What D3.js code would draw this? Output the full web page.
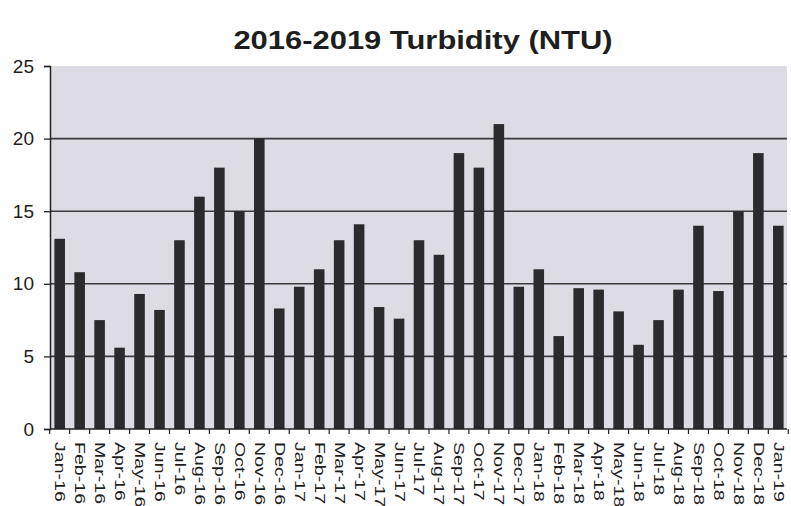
<!DOCTYPE html>
<html>
<head>
<meta charset="utf-8">
<script src="https://cdn.jsdelivr.net/npm/d3@7"></script>
<style>
  html, body { margin: 0; padding: 0; background: #fff; }
  svg { display: block; }
</style>
</head>
<body>
<svg id="chart" width="791" height="506"></svg>
<script>
// Monthly turbidity readings, Jan 2016 – Jan 2019 (NTU)
const months = [
  "Jan-16","Feb-16","Mar-16","Apr-16","May-16","Jun-16","Jul-16","Aug-16","Sep-16","Oct-16","Nov-16","Dec-16",
  "Jan-17","Feb-17","Mar-17","Apr-17","May-17","Jun-17","Jul-17","Aug-17","Sep-17","Oct-17","Nov-17","Dec-17",
  "Jan-18","Feb-18","Mar-18","Apr-18","May-18","Jun-18","Jul-18","Aug-18","Sep-18","Oct-18","Nov-18","Dec-18",
  "Jan-19"
];
const turbidity = [
  13.1, 10.8, 7.5, 5.6, 9.3, 8.2, 13, 16, 18, 15, 20, 8.3,
  9.8, 11, 13, 14.1, 8.4, 7.6, 13, 12, 19, 18, 21, 9.8,
  11, 6.4, 9.7, 9.6, 8.1, 5.8, 7.5, 9.6, 14, 9.5, 15, 19,
  14
];
const yTicks = [0, 5, 10, 15, 20, 25];
const title = "2016-2019 Turbidity (NTU)";

const svg = d3.select("#chart");
const plot = { left: 51, right: 787, top: 66, bottom: 429 };

const x = d3.scaleBand()
  .domain(months)
  .range([plot.left, plot.right])
  .paddingInner(0.47)
  .paddingOuter(0.17);

const y = d3.scaleLinear()
  .domain([0, 25])
  .range([plot.bottom, plot.top]);

// Title
svg.append("text")
  .attr("transform", "translate(423,49) scale(1.19,1)")
  .attr("text-anchor", "middle")
  .attr("font-family", "Liberation Sans, Arial, sans-serif")
  .attr("font-weight", "bold")
  .attr("font-size", 26)
  .attr("fill", "#1e1e1e")
  .text(title);

// Plot area background
svg.append("rect")
  .attr("x", plot.left)
  .attr("y", plot.top)
  .attr("width", plot.right - plot.left)
  .attr("height", plot.bottom - plot.top)
  .attr("fill", "#dddce4");

// Horizontal gridlines
svg.append("g")
  .selectAll("line")
  .data(yTicks.filter(t => t > 0 && t < 25))
  .join("line")
  .attr("x1", plot.left)
  .attr("x2", plot.right)
  .attr("y1", d => y(d))
  .attr("y2", d => y(d))
  .attr("stroke", "#3a3a3a")
  .attr("stroke-width", 1.6);

// Bars
svg.append("g")
  .selectAll("rect")
  .data(months.map((m, i) => ({ m, v: turbidity[i] })))
  .join("rect")
  .attr("x", d => x(d.m))
  .attr("width", x.bandwidth())
  .attr("y", d => y(d.v))
  .attr("height", d => y(0) - y(d.v))
  .attr("fill", "#2b2b2d");

// Y axis
const yAxis = d3.axisLeft(y)
  .tickValues(yTicks)
  .tickSize(6)
  .tickPadding(10)
  .tickFormat(d3.format("d"));

const gy = svg.append("g")
  .attr("transform", `translate(${plot.left - 1},0)`)
  .call(yAxis);
gy.select(".domain").attr("stroke", "#222").attr("stroke-width", 1.5);
gy.selectAll(".tick line").attr("stroke", "#222").attr("stroke-width", 1.3);
gy.selectAll(".tick text")
  .attr("font-family", "Liberation Sans, Arial, sans-serif")
  .attr("font-size", 19)
  .attr("fill", "#1e1e1e");

// X axis line with boundary ticks between categories
const step = x.step();
const boundaries = months.map(m => x(m) + x.bandwidth() / 2 - step / 2)
  .concat([x(months[months.length - 1]) + x.bandwidth() / 2 + step / 2]);

svg.append("line")
  .attr("x1", plot.left - 1)
  .attr("x2", plot.right)
  .attr("y1", y(0))
  .attr("y2", y(0))
  .attr("stroke", "#222")
  .attr("stroke-width", 1.5);

svg.append("g")
  .selectAll("line")
  .data(boundaries)
  .join("line")
  .attr("x1", d => d)
  .attr("x2", d => d)
  .attr("y1", y(0))
  .attr("y2", y(0) + 5)
  .attr("stroke", "#222")
  .attr("stroke-width", 1.2);

// Rotated month labels, reading top to bottom
svg.append("g")
  .selectAll("text")
  .data(months)
  .join("text")
  .attr("transform", d => `translate(${x(d) + x.bandwidth() / 2},${y(0) + 13}) rotate(90) scale(1.4,1)`)
  .attr("dominant-baseline", "central")
  .attr("text-anchor", "start")
  .attr("font-family", "Liberation Sans, Arial, sans-serif")
  .attr("font-size", 14)
  .attr("fill", "#1e1e1e")
  .text(d => d);
</script>
</body>
</html>
